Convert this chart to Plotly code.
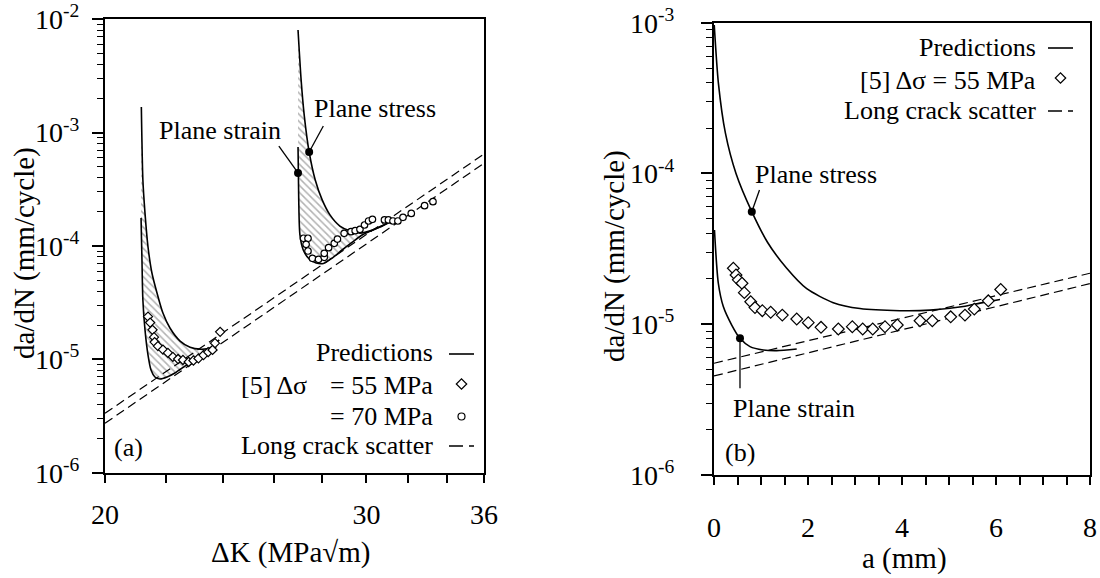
import math
import plotly.graph_objects as go

W, H = 1100, 578
FONT = "Liberation Serif"

# ---------------- Panel (a): da/dN vs dK ----------------
# Predictions, delta sigma = 55 MPa
k_stress_55 = [21.16, 21.21, 21.28, 21.38, 21.51, 21.68, 21.88, 22.12, 22.47, 22.82, 23.18, 23.54, 23.87]
r_stress_55 = [1.68e-3, 3.82e-4, 1.95e-4, 9.8e-5, 5.78e-5, 3.85e-5, 2.56e-5, 1.89e-5, 1.45e-5, 1.28e-5, 1.23e-5, 1.26e-5, 1.48e-5]
k_strain_55 = [21.15, 21.18, 21.21, 21.28, 21.38, 21.48, 21.61, 21.78, 22.02, 22.29, 22.64, 23.00, 23.36, 23.65, 23.87]
r_strain_55 = [1.77e-4, 7.52e-5, 3.34e-5, 1.82e-5, 1.09e-5, 8.05e-6, 6.99e-6, 6.71e-6, 6.99e-6, 7.58e-6, 8.73e-6, 1.007e-5, 1.16e-5, 1.31e-5, 1.48e-5]
# Predictions, delta sigma = 70 MPa
k_stress_70 = [26.98, 27.11, 27.24, 27.45, 27.71, 28.01, 28.35, 28.79, 29.24, 29.70, 30.17, 30.64, 31.12]
r_stress_70 = [8.04e-3, 2.91e-3, 1.43e-3, 6.75e-4, 3.82e-4, 2.55e-4, 1.88e-4, 1.50e-4, 1.36e-4, 1.30e-4, 1.36e-4, 1.47e-4, 1.63e-4]
k_strain_70 = [26.98, 27.01, 27.06, 27.20, 27.45, 27.75, 28.06, 28.45, 28.89, 29.35, 29.80, 30.40, 31.12]
r_strain_70 = [7.47e-4, 2.55e-4, 1.25e-4, 9.22e-5, 7.68e-5, 7.08e-5, 7.01e-5, 7.83e-5, 9.22e-5, 1.08e-4, 1.25e-4, 1.41e-4, 1.63e-4]
# Experiments [5]
k_exp_55 = [21.38, 21.45, 21.53, 21.58, 21.60, 21.71, 21.88, 22.05, 22.22, 22.40, 22.57, 22.77, 22.94, 23.12, 23.30, 23.47, 23.63, 23.72, 23.91]
r_exp_55 = [2.38e-5, 2.11e-5, 1.82e-5, 1.57e-5, 1.42e-5, 1.31e-5, 1.22e-5, 1.14e-5, 1.05e-5, 1.007e-5, 9.87e-6, 9.48e-6, 9.77e-6, 1.02e-5, 1.09e-5, 1.16e-5, 1.21e-5, 1.39e-5, 1.75e-5]
k_exp_70 = [27.21, 27.40, 27.32, 27.40, 27.59, 27.85, 28.10, 28.10, 28.29, 28.54, 28.68, 28.98, 29.29, 29.48, 29.70, 29.91, 30.10, 30.28, 30.85, 31.04, 31.26, 31.50, 31.75, 32.16, 32.83, 33.26]
r_exp_70 = [1.17e-4, 1.17e-4, 1.035e-4, 9.03e-5, 7.79e-5, 7.63e-5, 7.95e-5, 8.62e-5, 9.66e-5, 1.056e-4, 1.152e-4, 1.294e-4, 1.337e-4, 1.365e-4, 1.404e-4, 1.532e-4, 1.662e-4, 1.72e-4, 1.70e-4, 1.70e-4, 1.662e-4, 1.662e-4, 1.79e-4, 1.94e-4, 2.27e-4, 2.46e-4]
# Long crack scatter band
k_long = [20, 36]
r_long_upper = [3.34e-6, 6.48e-4]
r_long_lower = [2.73e-6, 5.37e-4]
# Marked points (plane strain / plane stress)
k_mark = [26.98, 27.45]
r_mark = [4.41e-4, 6.75e-4]

# ---------------- Panel (b): da/dN vs a ----------------
a_stress = [0.005, 0.094, 0.243, 0.468, 0.804, 1.138, 1.547, 1.973, 2.538, 3.106, 3.957, 4.596, 5.304, 5.66, 6.085]
r_stress_b = [9.65e-4, 3.96e-4, 1.85e-4, 1.0e-4, 5.58e-5, 3.5e-5, 2.35e-5, 1.72e-5, 1.39e-5, 1.27e-5, 1.23e-5, 1.24e-5, 1.31e-5, 1.38e-5, 1.46e-5]
a_strain = [0.01, 0.092, 0.198, 0.377, 0.553, 0.766, 1.049, 1.334, 1.76]
r_strain_b = [4.22e-5, 1.87e-5, 1.31e-5, 9.88e-6, 8.06e-6, 7.10e-6, 6.75e-6, 6.68e-6, 6.85e-6]
a_exp = [0.411, 0.468, 0.517, 0.596, 0.645, 0.781, 0.872, 1.028, 1.206, 1.453, 1.76, 2.006, 2.277, 2.645, 2.943, 3.164, 3.377, 3.638, 3.9, 4.383, 4.645, 5.036, 5.34, 5.538, 5.836, 6.1]
r_exp_b = [2.35e-5, 2.12e-5, 1.97e-5, 1.87e-5, 1.62e-5, 1.41e-5, 1.29e-5, 1.23e-5, 1.20e-5, 1.15e-5, 1.083e-5, 1.024e-5, 9.54e-6, 9.30e-6, 9.63e-6, 9.30e-6, 9.30e-6, 9.63e-6, 9.88e-6, 1.055e-5, 1.055e-5, 1.12e-5, 1.15e-5, 1.26e-5, 1.43e-5, 1.70e-5]
a_long = [0, 8]
r_long_upper_b = [5.51e-6, 2.18e-5]
r_long_lower_b = [4.54e-6, 1.86e-5]
a_mark = [0.804, 0.553]
r_mark_b = [5.58e-5, 8.06e-6]

# ---------------- Ticks ----------------
k_ticks = [20, 22, 24, 26, 28, 30, 32, 34, 36]
k_ticktext = ["20", "", "", "", "", "30", "", "", "36"]
a_ticks = [0, 0.5, 1, 1.5, 2, 2.5, 3, 3.5, 4, 4.5, 5, 5.5, 6, 6.5, 7, 7.5, 8]
a_ticktext = ["0", "", "", "", "2", "", "", "", "4", "", "", "", "6", "", "", "", "8"]
y_ticks_a = [1e-6, 1e-5, 1e-4, 1e-3, 1e-2]
y_ticktext_a = ["10<sup>-6</sup>", "10<sup>-5</sup>", "10<sup>-4</sup>", "10<sup>-3</sup>", "10<sup>-2</sup>"]
y_ticks_b = [1e-6, 1e-5, 1e-4, 1e-3]
y_ticktext_b = ["10<sup>-6</sup>", "10<sup>-5</sup>", "10<sup>-4</sup>", "10<sup>-3</sup>"]

def minor_vals(lo, hi):
    out = []
    for e in range(lo, hi):
        for m in range(2, 10):
            out.append(m * 10.0 ** e)
    return out

fig = go.Figure()

hatch = dict(shape="\\", fgcolor="#666666", bgcolor="white", size=5, solidity=0.3)

def band(x1, y1, x2, y2, xa, ya):
    return go.Scatter(x=list(x1) + list(x2)[::-1], y=list(y1) + list(y2)[::-1],
                      fill="toself", fillcolor="white", fillpattern=hatch,
                      mode="lines", line=dict(width=0, shape="spline", smoothing=0.7),
                      xaxis=xa, yaxis=ya, showlegend=False, hoverinfo="skip")

def curve(x, y, xa, ya, dash="solid", width=1.6, shape="spline"):
    return go.Scatter(x=x, y=y, mode="lines",
                      line=dict(color="black", width=width, dash=dash, shape=shape, smoothing=0.7),
                      xaxis=xa, yaxis=ya, showlegend=False, hoverinfo="skip")

def pts(x, y, xa, ya, symbol, size):
    return go.Scatter(x=x, y=y, mode="markers",
                      marker=dict(symbol=symbol, size=size, color="white",
                                  line=dict(color="black", width=1.2)),
                      xaxis=xa, yaxis=ya, showlegend=False, hoverinfo="skip")

DASH = "9px,5px"

# ---- panel (a) ----
fig.add_trace(band(k_stress_55, r_stress_55, k_strain_55, r_strain_55, "x", "y"))
fig.add_trace(band(k_stress_70, r_stress_70, k_strain_70, r_strain_70, "x", "y"))
fig.add_trace(curve(k_long, r_long_upper, "x", "y", dash=DASH, width=1.2, shape="linear"))
fig.add_trace(curve(k_long, r_long_lower, "x", "y", dash=DASH, width=1.2, shape="linear"))
fig.add_trace(curve(k_stress_55, r_stress_55, "x", "y"))
fig.add_trace(curve(k_strain_55, r_strain_55, "x", "y"))
fig.add_trace(curve(k_stress_70, r_stress_70, "x", "y"))
fig.add_trace(curve(k_strain_70, r_strain_70, "x", "y"))
fig.add_trace(pts(k_exp_55, r_exp_55, "x", "y", "diamond", 7))
fig.add_trace(pts(k_exp_70, r_exp_70, "x", "y", "circle", 6.5))
# leader lines
fig.add_trace(curve([k_mark[0], 26.19], [r_mark[0], 7.62e-4], "x", "y", width=1.3, shape="linear"))
fig.add_trace(curve([k_mark[1], 28.06], [r_mark[1], 1.144e-3], "x", "y", width=1.3, shape="linear"))
fig.add_trace(go.Scatter(x=k_mark, y=r_mark, mode="markers", marker=dict(color="black", size=8),
                         xaxis="x", yaxis="y", showlegend=False, hoverinfo="skip"))

# ---- panel (b) ----
fig.add_trace(curve(a_long, r_long_upper_b, "x2", "y2", dash=DASH, width=1.2, shape="linear"))
fig.add_trace(curve(a_long, r_long_lower_b, "x2", "y2", dash=DASH, width=1.2, shape="linear"))
fig.add_trace(curve(a_stress, r_stress_b, "x2", "y2"))
fig.add_trace(curve(a_strain, r_strain_b, "x2", "y2"))
fig.add_trace(pts(a_exp, r_exp_b, "x2", "y2", "diamond", 9))
fig.add_trace(curve([a_mark[0], 0.968], [r_mark_b[0], 7.77e-5], "x2", "y2", width=1.3, shape="linear"))
fig.add_trace(curve([a_mark[1], a_mark[1]], [r_mark_b[1], 3.76e-6], "x2", "y2", width=1.3, shape="linear"))
fig.add_trace(go.Scatter(x=a_mark, y=r_mark_b, mode="markers", marker=dict(color="black", size=8),
                         xaxis="x2", yaxis="y2", showlegend=False, hoverinfo="skip"))

# ---- legend samples on a pixel overlay ----
def px_line(x0, x1, y, dash):
    return go.Scatter(x=[x0, x1], y=[y, y], mode="lines", line=dict(color="black", width=1.6, dash=dash),
                      xaxis="x3", yaxis="y3", showlegend=False, hoverinfo="skip")

def px_mark(x, y, symbol, size):
    return go.Scatter(x=[x], y=[y], mode="markers",
                      marker=dict(symbol=symbol, size=size, color="white", line=dict(color="black", width=1.2)),
                      xaxis="x3", yaxis="y3", showlegend=False, hoverinfo="skip")

fig.add_trace(px_line(449, 474, 354, "solid"))
fig.add_trace(px_mark(461.5, 384, "diamond", 8))
fig.add_trace(px_mark(461.5, 416.5, "circle", 7))
fig.add_trace(px_line(449, 474, 446, "14px,6px"))
fig.add_trace(px_line(1048, 1073, 48, "solid"))
fig.add_trace(px_mark(1060.5, 78, "diamond", 8))
fig.add_trace(px_line(1048, 1073, 111, "14px,6px"))

def ann(text, x, y, xanchor="center", size=26, angle=0):
    # x, y in figure pixels from top-left
    return dict(text=text, x=x / W, y=1 - y / H, xref="paper", yref="paper", xanchor=xanchor, yanchor="middle",
                showarrow=False, textangle=angle, font=dict(family=FONT, size=size, color="black"))

def ann_data(text, x, y, xr, yr, size=26):
    return dict(text=text, x=x, y=y, xref=xr, yref=yr, xanchor="center", yanchor="middle",
                showarrow=False, font=dict(family=FONT, size=size, color="black"))

L = math.log10
annotations = [
    ann("Predictions", 435, 352, "right"),
    ann("[5] Δσ", 309, 385, "right"),
    ann("= 55 MPa", 435, 385, "right"),
    ann("= 70 MPa", 435, 416, "right"),
    ann("Long crack scatter", 435, 445, "right"),
    ann("(a)", 112, 447, "left"),
    ann("Predictions", 1038, 47, "right"),
    ann("[5] Δσ = 55 MPa", 1038, 80, "right"),
    ann("Long crack scatter", 1038, 110, "right"),
    ann("(b)", 723, 452, "left"),
    ann("da/dN (mm/cycle)", 25, 253, size=29, angle=-90),
    ann("da/dN (mm/cycle)", 614, 256, size=29, angle=-90),
    ann("ΔK (MPa√m)", 290, 552, size=29),
    ann("a (mm)", 904, 558, size=29),
    # point labels in data coordinates
    ann_data("Plane strain", L(23.91), L(1.055e-3), "x", "y"),
    ann_data("Plane stress", L(30.38), L(1.65e-3), "x", "y"),
    ann_data("Plane stress", 2.18, L(9.77e-5), "x2", "y2"),
    ann_data("Plane strain", 1.70, L(2.77e-6), "x2", "y2"),
]

axis_common = dict(showline=True, linecolor="black", linewidth=2, mirror=True, showgrid=False,
                   zeroline=False, ticks="outside", tickcolor="black", tickwidth=1.5,
                   tickfont=dict(family=FONT, size=28, color="black"), automargin=False)

fig.update_layout(
    width=W, height=H, autosize=False,
    margin=dict(l=0, r=0, t=0, b=0),
    paper_bgcolor="white", plot_bgcolor="rgba(0,0,0,0)",
    showlegend=False,
    font=dict(family=FONT, color="black"),
    xaxis=dict(axis_common, type="log", range=[L(20), L(36)], domain=[105 / W, 484 / W], anchor="y",
               tickmode="array", tickvals=k_ticks, ticktext=k_ticktext, ticklen=8, ticklabelstandoff=8),
    yaxis=dict(axis_common, type="log", range=[-6, -2], domain=[1 - 472.7 / H, 1 - 19.3 / H], anchor="x",
               tickmode="array", tickvals=y_ticks_a, ticktext=y_ticktext_a, ticklen=11, ticklabelstandoff=7,
               minor=dict(tickmode="array", tickvals=minor_vals(-6, -2), ticks="outside", ticklen=6,
                          tickwidth=1.3, tickcolor="black", showgrid=False)),
    xaxis2=dict(axis_common, type="linear", range=[0, 8], domain=[714 / W, 1090 / W], anchor="y2",
                tickmode="array", tickvals=a_ticks, ticktext=a_ticktext, ticklen=8, ticklabelstandoff=18),
    yaxis2=dict(axis_common, type="log", range=[-6, -3], domain=[1 - 475 / H, 1 - 22.7 / H], anchor="x2",
                tickmode="array", tickvals=y_ticks_b, ticktext=y_ticktext_b, ticklen=11, ticklabelstandoff=21,
                minor=dict(tickmode="array", tickvals=minor_vals(-6, -3), ticks="outside", ticklen=6,
                           tickwidth=1.3, tickcolor="black", showgrid=False)),
    xaxis3=dict(domain=[0, 1], range=[0, W], visible=False, anchor="y3", fixedrange=True),
    yaxis3=dict(domain=[0, 1], range=[H, 0], visible=False, anchor="x3", fixedrange=True),
    annotations=annotations,
)

# remove the browser's default 8px page margin so the figure sits at the window origin
fig.write_html("out.html", config={"displayModeBar": False},
               post_script="document.body.style.margin='0px';")
